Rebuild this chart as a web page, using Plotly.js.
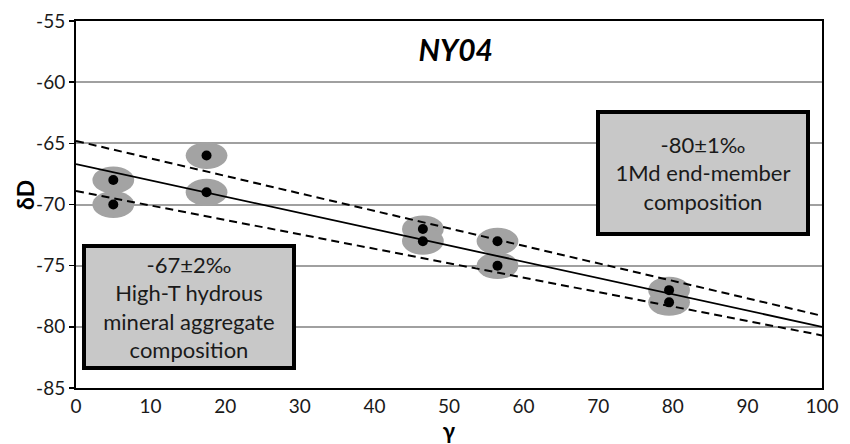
<!DOCTYPE html>
<html>
<head>
<meta charset="utf-8">
<script src="https://cdn.plot.ly/plotly-3.0.1.min.js"></script>
<style>html,body{margin:0;padding:0;background:#fff;}#chart{width:850px;height:444px;}</style>
</head>
<body>
<div id="chart"></div>
<script>
// Data
const pointX = [5, 5, 17.5, 17.5, 46.5, 46.5, 56.5, 56.5, 79.5, 79.5];
const pointY = [-68, -70, -66, -69, -72, -73, -73, -75, -77, -78];
const lineX = [0, 100];
const fitY = [-66.7, -80.0];
const upperY = [-64.8, -79.1];
const lowerY = [-68.9, -80.7];
const xTicks = [0, 10, 20, 30, 40, 50, 60, 70, 80, 90, 100];
const yTicks = [-85, -80, -75, -70, -65, -60, -55];
const boxHighT = ["-67±2‰", "High-T hydrous", "mineral aggregate", "composition"];
const box1Md = ["-80±1‰", "1Md end-member", "composition"];

const FONT = "Lato, 'Open Sans', sans-serif";
const ELL_RX = 2.8, ELL_RY = 1.1;

const shapes = pointX.map((x, i) => ({
  type: 'circle', xref: 'x', yref: 'y', layer: 'between',
  x0: x - ELL_RX, x1: x + ELL_RX, y0: pointY[i] - ELL_RY, y1: pointY[i] + ELL_RY,
  fillcolor: '#a3a3a3', line: {width: 0}
}));

const traces = [
  {x: lineX, y: upperY, mode: 'lines', line: {color: '#000', width: 2, dash: '8px,5px'}, hoverinfo: 'skip'},
  {x: lineX, y: lowerY, mode: 'lines', line: {color: '#000', width: 2, dash: '8px,5px'}, hoverinfo: 'skip'},
  {x: lineX, y: fitY, mode: 'lines', line: {color: '#000', width: 1.8}, hoverinfo: 'skip'},
  {x: pointX, y: pointY, mode: 'markers', marker: {color: '#000', size: 10}}
];

const layout = {
  width: 850, height: 444,
  margin: {l: 76, r: 28, t: 21, b: 56},
  paper_bgcolor: '#fff', plot_bgcolor: '#fff',
  showlegend: false,
  font: {family: FONT, color: '#1a1a1a'},
  title: {text: '<b><i>NY04</i></b>', font: {family: FONT, size: 30, color: '#000'},
          x: 0.509, xref: 'paper', xanchor: 'center', y: 1 - 50/444, yref: 'container', yanchor: 'middle'},
  xaxis: {
    range: [0, 100], tickvals: xTicks, ticktext: xTicks.map(String),
    showgrid: false, zeroline: false,
    showline: true, linecolor: '#000', linewidth: 2, mirror: true,
    ticks: '', tickfont: {size: 19, family: FONT, color: '#1a1a1a'},
    title: {text: '<b>γ</b>', font: {size: 22, family: FONT, color: '#000'}, standoff: 6}
  },
  yaxis: {
    range: [-85, -55], tickvals: yTicks, ticktext: yTicks.map(String),
    showgrid: true, gridcolor: '#a0a0a0', gridwidth: 2, zeroline: false,
    showline: true, linecolor: '#000', linewidth: 2, mirror: true,
    ticks: 'outside', ticklen: 5, tickcolor: '#000', tickwidth: 1.5,
    tickfont: {size: 19, family: FONT, color: '#1a1a1a'}
  },
  shapes: shapes,
  annotations: [
    {text: '<b>δD</b>', xref: 'paper', yref: 'paper', x: (25 - 76) / 746, y: (388 - 195) / 367,
     showarrow: false, textangle: -90, xanchor: 'center', yanchor: 'middle',
     font: {size: 23, family: FONT, color: '#000'}},
    {text: boxHighT.join('<br>'), xref: 'x', yref: 'y', x: 15.2, y: -78.4,
     showarrow: false, xanchor: 'center', yanchor: 'middle',
     width: 202, height: 114, align: 'center', valign: 'middle',
     bgcolor: '#c8c8c8', bordercolor: '#000', borderwidth: 4, borderpad: 2,
     font: {size: 22, family: FONT, color: '#1a1a1a'}},
    {text: box1Md.join('<br>'), xref: 'x', yref: 'y', x: 84.1, y: -67.4,
     showarrow: false, xanchor: 'center', yanchor: 'middle',
     width: 202, height: 114, align: 'center', valign: 'middle',
     bgcolor: '#c8c8c8', bordercolor: '#000', borderwidth: 4, borderpad: 2,
     font: {size: 22, family: FONT, color: '#1a1a1a'}}
  ]
};

Plotly.newPlot('chart', traces, layout, {displayModeBar: false, staticPlot: true});
</script>
</body>
</html>
